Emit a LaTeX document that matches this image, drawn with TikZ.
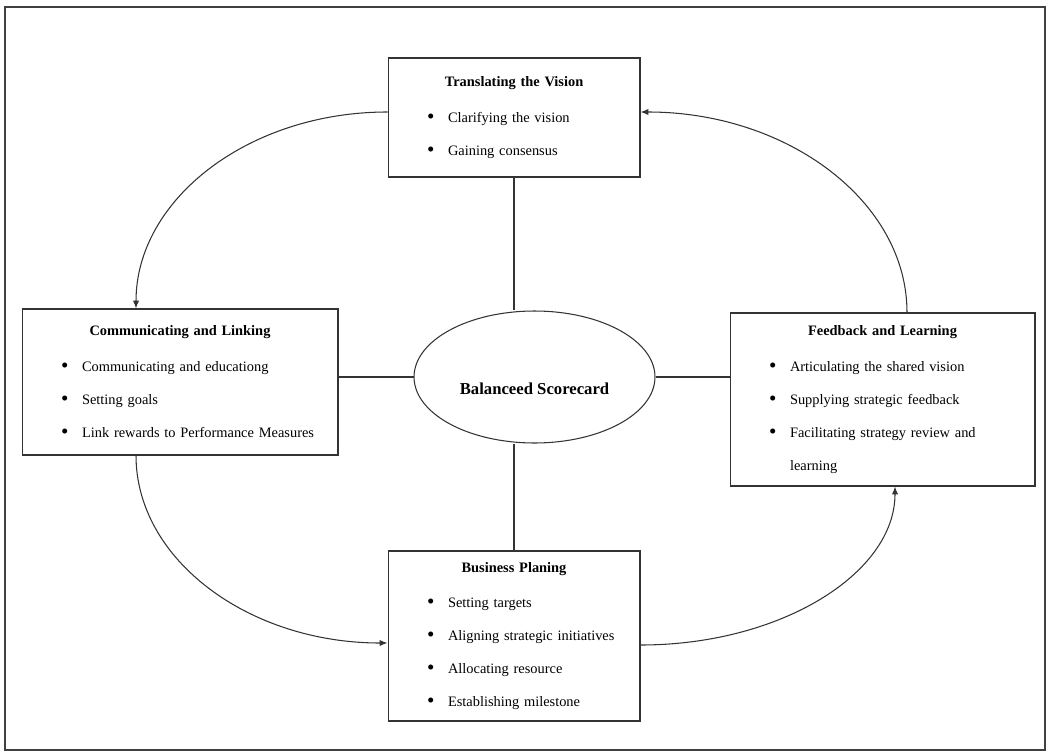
\documentclass[tikz,border=0pt]{standalone}
\usepackage{fontspec}
\setmainfont{Liberation Serif}
\usetikzlibrary{shapes.geometric}
\usetikzlibrary{positioning}
\usetikzlibrary{arrows.meta}

\newcommand{\btitle}[1]{{\centering\bfseries #1\par}\vspace{1.5pt}}
\newcommand{\bitem}[1]{\par\noindent\makebox[0.42cm][l]{\raisebox{-0.6pt}{\fontsize{12}{12}\selectfont\textbullet}}\mbox{#1}}
\newcommand{\bcont}[1]{\par\noindent\hspace*{0.42cm}\mbox{#1}}

\tikzset{
stage/.style={rectangle,draw=black!80,line width=0.6pt,inner xsep=0.78cm,inner ysep=0pt,font=\fontsize{8.2}{18.8}\selectfont},
hub/.style={ellipse,draw=black!80,line width=0.6pt,inner sep=0pt,font=\fontsize{9.5}{11}\selectfont\bfseries,text height=20pt,text depth=0pt},
spoke/.style={draw=black!80,line width=0.6pt},
cycle/.style={draw=black!80,line width=0.6pt,-{Latex[length=4.5pt,width=3.6pt]}}
}

\begin{document}
\begin{tikzpicture}[x=0.02cm,y=-0.02cm]
\useasboundingbox (0,0) rectangle (1050,753);
\draw[black!75,line width=1.2pt] (5,7) rectangle (1045,750);

\node[stage,text width=3.48cm,minimum height=2.38cm] (tv) at (514,117.5) {\btitle{Translating the Vision}\bitem{Clarifying the vision}\bitem{Gaining consensus}};
\node[stage,text width=4.76cm,minimum height=2.92cm] (cl) at (180,382) {\btitle{Communicating and Linking}\bitem{Communicating and educationg}\bitem{Setting goals}\bitem{Link rewards to Performance Measures}};
\node[stage,text width=4.54cm,minimum height=3.46cm] (fl) at (882.5,399.5) {\btitle{Feedback and Learning}\bitem{Articulating the shared vision}\bitem{Supplying strategic feedback}\bitem{Facilitating strategy review and}\bcont{learning}};
\node[stage,text width=3.48cm,minimum height=3.4cm] (bp) at (514,636) {\btitle{Business Planing}\bitem{Setting targets}\bitem{Aligning strategic initiatives}\bitem{Allocating resource}\bitem{Establishing milestone}};
\node[hub,minimum width=4.82cm,minimum height=2.64cm] (bsc) at (534.5,377) {Balanceed Scorecard};

\draw[spoke] (tv.south) -- (tv.south |- bsc.north);
\draw[spoke] (bp.north |- bsc.south) -- (bp.north);
\draw[spoke] (cl.east |- bsc.west) -- (bsc.west);
\draw[spoke] (bsc.east) -- (fl.west |- bsc.east);

\draw[cycle] ([yshift=0.11cm]tv.west) .. controls +(-139,0) and +(0,-109) .. ([xshift=-0.88cm]cl.north);
\draw[cycle] ([xshift=-0.88cm]cl.south) .. controls +(0,104) and +(-139,0) .. ([yshift=-0.14cm]bp.west);
\draw[cycle] ([yshift=-0.18cm]bp.east) .. controls +(140,0) and +(0,87) .. ([xshift=0.25cm]fl.south);
\draw[cycle] ([xshift=0.49cm]fl.north) .. controls +(0,-111) and +(147,0) .. ([yshift=0.11cm]tv.east);

\end{tikzpicture}
\end{document}
